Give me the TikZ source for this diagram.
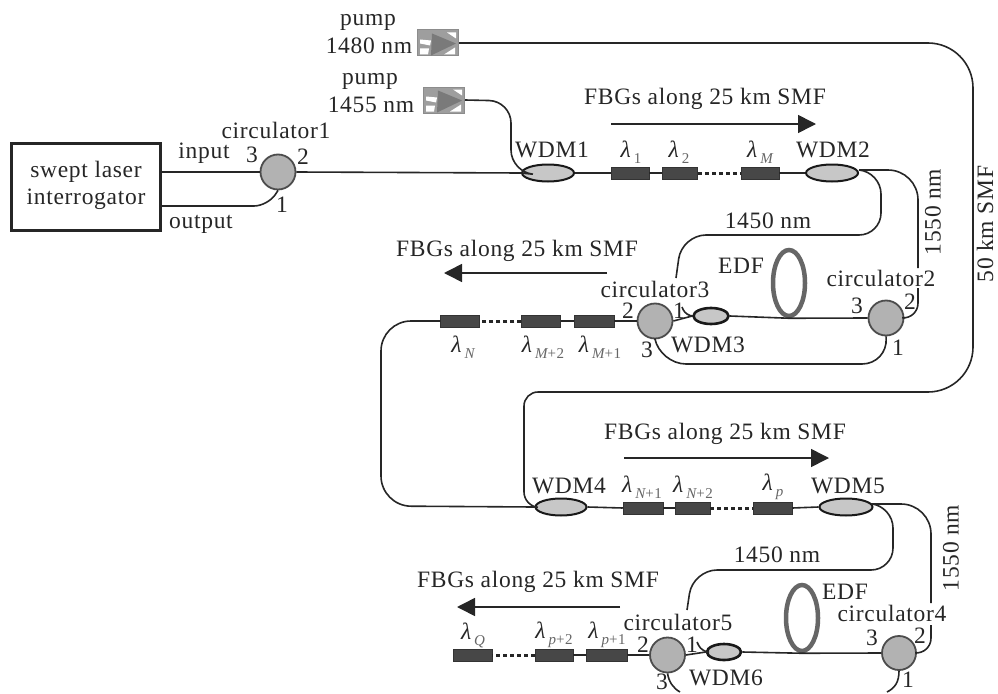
\documentclass[tikz,border=0pt]{standalone}
\usepackage{fontspec}
\setmainfont[LetterSpace=3]{Liberation Serif}
\usetikzlibrary{shapes.geometric,arrows.meta}
\tikzset{
 x=1pt,y=-1pt,
 fibre/.style={draw=black!85,line width=1.6pt},
 lbl/.style={inner sep=0pt,font=\fontsize{23.5}{26}\selectfont,text=black!85},
 wdm/.style={ellipse,draw=black!90,line width=2pt,fill=black!22,minimum width=#1,minimum height=17pt,inner sep=0pt},
 wdm/.default=52pt,
 circ/.style={circle,draw=black!70,line width=1.8pt,fill=black!30,minimum size=35pt,inner sep=0pt},
 fbg/.style={rectangle,fill=black!72,draw=black!80,line width=.5pt,minimum width=#1,minimum height=12pt,inner sep=0pt},
 fbg/.default=38pt,
 edf/.style={ellipse,draw=black!60,line width=4.5pt,minimum width=32pt,minimum height=66pt,inner sep=0pt},
 pumpbox/.style={rectangle,draw=black!45,line width=1pt,fill=black!38,minimum width=41pt,minimum height=26pt,inner sep=0pt},
 dotline/.style={draw=black!85,line width=3pt,dash pattern=on 4pt off 3pt},
 bigarrow/.style={draw=black!85,line width=1.6pt,-{Triangle[length=18pt,width=18pt]}},
}
\newcommand{\lam}[1]{{\itshape λ}\kern3pt\raisebox{-6pt}{\fontsize{15}{15}\selectfont\color{black!60}#1}}
\newcommand{\pumpicon}[1]{%
 \begin{scope}[shift={(#1.north west)}]
 \fill[white] (3,10) -- (14,11) -- (13,16) -- (3,14) -- cycle;
 \fill[white] (30,3) -- (39,3) -- (39,9) -- cycle;
 \fill[white] (3,19) -- (12,19) -- (11,25) -- (3,25) -- cycle;
 \fill[white] (27,25) -- (38,18) -- (38,25) -- cycle;
 \fill[black!52] (15,4) -- (39,14) -- (14,26) -- cycle;
 \end{scope}
}
\begin{document}
\begin{tikzpicture}
\useasboundingbox (0,0) rectangle (998,693);
% devices
\node[rectangle,draw=black!85,line width=3.5pt,minimum width=149pt,minimum height=87pt,inner sep=0pt] (laser) at (86,187) {};
\node[lbl,align=center] (lasertext) at (86,185) {swept laser\\[1pt]interrogator};
\node[pumpbox] (pumpA) at (438,43) {};
\pumpicon{pumpA}
\node[pumpbox] (pumpB) at (444,100) {};
\pumpicon{pumpB}
\node[circ] (c1) at (278,172) {};
\node[circ] (c2) at (886,318) {};
\node[circ] (c3) at (655,321) {};
\node[circ,minimum size=34pt] (c4) at (899,653) {};
\node[circ,minimum size=35pt] (c5) at (667.5,655) {};
\node[wdm] (w1) at (548,173) {};
\node[wdm] (w2) at (832,173) {};
\node[wdm=35pt,minimum height=16pt,line width=2.6pt] (w3) at (711,316) {};
\node[wdm=51pt] (w4) at (561,507) {};
\node[wdm=53pt] (w5) at (846,507) {};
\node[wdm=34pt,minimum height=16pt,line width=2.6pt] (w6) at (724,652) {};
\node[edf] (e1) at (789,283) {};
\node[edf,minimum width=32pt,minimum height=66pt] (e2) at (802,618) {};
% gratings
\node[fbg] (f1) at (630,173) {};
\node[fbg=35pt] (f2) at (680,173) {};
\node[fbg] (fM) at (760,173) {};
\node[fbg=40pt] (fM1) at (594,321) {};
\node[fbg=39pt] (fM2) at (541,321) {};
\node[fbg=39pt] (fN) at (460,321) {};
\node[fbg=40pt] (fN1) at (643,508) {};
\node[fbg=35pt] (fN2) at (692.5,508) {};
\node[fbg=39pt] (fP) at (772.5,508) {};
\node[fbg=41pt] (fP1) at (606.5,655) {};
\node[fbg=38pt] (fP2) at (554,655) {};
\node[fbg=39pt] (fQ) at (472.5,655) {};
% connectors, first section
\draw[fibre] (laser.east |- c1.west) -- (c1.west);
\draw[fibre,rounded corners=14pt] (161,206) -- (268,206) -- (c1.south);
\draw[fibre] (c1.east) -- (w1.west);
\draw[fibre,rounded corners=22pt] (pumpB.east) -- (511,101) -- (511,172) -- (w1.west);
\draw[fibre,rounded corners=45pt] (pumpA.east) -- (973,43) -- (973,392) -- (600,392);
\draw[fibre,rounded corners=14pt] (600,392) -- (524,392) -- (524,506) -- (w4.west);
\draw[fibre] (w1.east) -- (f1.west);
\draw[fibre] (f1.east) -- (f2.west);
\draw[dotline] (f2.east) -- (fM.west);
\draw[fibre] (fM.east) -- (w2.west);
\coordinate (w2up) at (859,170);
\coordinate (w5up) at (873,504);
\draw[fibre,rounded corners=30pt] (w2up) -- (918,170) -- (918,268);
\draw[fibre,rounded corners=16pt] (c2.east) -- (918,319) -- (918,288);
\draw[fibre,rounded corners=22pt] (w2up) -- (881,172) -- (881,235) -- (780,235);
\draw[fibre,rounded corners=24pt] (780,235) -- (682,235) -- (676,278);
\draw[fibre] (e1.south) -- (c2.west);
\draw[fibre] (w3.east) -- (e1.south);
\draw[fibre] (c3.east) -- (w3.west);
\draw[fibre,rounded corners=7pt] (w3.west) -- (686,316) -- (682,307);
\draw[fibre,rounded corners=26pt] (c3.south) -- (660,364) -- (888,364) -- (c2.south);
\draw[fibre] (c3.west) -- (fM1.east);
\draw[fibre] (fM1.west) -- (fM2.east);
\draw[dotline] (fM2.west) -- (fN.east);
\draw[fibre,rounded corners=30pt] (fN.west) -- (381,321) -- (381,506) -- (w4.west);
% second section
\draw[fibre] (w4.east) -- (fN1.west);
\draw[fibre] (fN1.east) -- (fN2.west);
\draw[dotline] (fN2.east) -- (fP.west);
\draw[fibre] (fP.east) -- (w5.west);
\draw[fibre,rounded corners=30pt] (w5up) -- (931,504) -- (931,603);
\draw[fibre,rounded corners=16pt] (c4.east) -- (931,654) -- (931,625);
\draw[fibre,rounded corners=22pt] (w5up) -- (893,506) -- (893,570) -- (800,570);
\draw[fibre,rounded corners=24pt] (800,570) -- (693,570) -- (687,610);
\draw[fibre] (w6.east) -- (e2.south);
\draw[fibre] (e2.south) -- (c4.west);
\draw[fibre] (c5.east) -- (w6.west);
\draw[fibre,rounded corners=7pt] (w6.west) -- (702,652) -- (697,642);
\draw[fibre] (c5.west) -- (fP1.east);
\draw[fibre] (fP1.west) -- (fP2.east);
\draw[dotline] (fP2.west) -- (fQ.east);
\coordinate (endA) at (680,692);
\coordinate (endB) at (887,692);
\draw[fibre] (c5.south) .. controls (669,682) and (673,688) .. (endA);
\draw[fibre] (c4.south) .. controls (899,682) and (895,688) .. (endB);
% direction arrows
\coordinate (a1s) at (611,124); \coordinate (a1e) at (816,124);
\coordinate (a2s) at (607,273); \coordinate (a2e) at (444,273);
\coordinate (a3s) at (624,458); \coordinate (a3e) at (829,458);
\coordinate (a4s) at (620,607); \coordinate (a4e) at (457,607);
\draw[bigarrow] (a1s) -- (a1e);
\draw[bigarrow] (a2s) -- (a2e);
\draw[bigarrow] (a3s) -- (a3e);
\draw[bigarrow] (a4s) -- (a4e);
% labels
\node[lbl] (t01) at (368,22) {pump};
\node[lbl] (t02) at (369,46) {1480 nm};
\node[lbl] (t03) at (370,81) {pump};
\node[lbl] (t04) at (371,105) {1455 nm};
\node[lbl] (t05) at (276,130) {circulator1};
\node[lbl] (t06) at (204,153) {input};
\node[lbl] (t07) at (201,224) {output};
\node[lbl] (t08) at (252,155) {3};
\node[lbl] (t09) at (303,157) {2};
\node[lbl] (t10) at (282,205) {1};
\node[lbl] (t11) at (705,99) {FBGs along 25 km SMF};
\node[lbl] (t12) at (552,150) {WDM1};
\node[lbl] (t13) at (833,150) {WDM2};
\node[lbl] (t14) at (631,152) {\lam{1}};
\node[lbl] (t15) at (679,152) {\lam{2}};
\node[lbl] (t16) at (760,152) {\lam{\itshape M}};
\node[lbl] (t17) at (768,221) {1450 nm};
\node[lbl,rotate=90] (t18) at (933,212) {1550 nm};
\node[lbl,rotate=90] (t19) at (985,224) {50 km SMF};
\node[lbl] (t20) at (517,251) {FBGs along 25 km SMF};
\node[lbl] (t21) at (655,289) {circulator3};
\node[lbl] (t22) at (741,266) {EDF};
\node[lbl] (t23) at (881,278) {circulator2};
\node[lbl] (t24) at (857,306) {3};
\node[lbl] (t25) at (910,302) {2};
\node[lbl] (t26) at (898,348) {1};
\node[lbl] (t27) at (628,311) {2};
\node[lbl] (t28) at (679,311) {1};
\node[lbl] (t29) at (647,350) {3};
\node[lbl] (t30) at (708,345) {WDM3};
\node[lbl] (t31) at (463,347) {\lam{\itshape N}};
\node[lbl] (t32) at (543,347) {\lam{{\itshape M}+2}};
\node[lbl] (t33) at (600,347) {\lam{{\itshape M}+1}};
\node[lbl] (t34) at (725,434) {FBGs along 25 km SMF};
\node[lbl] (t35) at (569,486) {WDM4};
\node[lbl] (t36) at (848,486) {WDM5};
\node[lbl] (t37) at (642,487) {\lam{{\itshape N}+1}};
\node[lbl] (t38) at (693,487) {\lam{{\itshape N}+2}};
\node[lbl] (t39) at (773,487) {\lam{\itshape p}};
\node[lbl] (t40) at (777,555) {1450 nm};
\node[lbl,rotate=90] (t41) at (951,548) {1550 nm};
\node[lbl] (t42) at (538,582) {FBGs along 25 km SMF};
\node[lbl] (t43) at (845,592) {EDF};
\node[lbl] (t44) at (892,613) {circulator4};
\node[lbl] (t45) at (678,622) {circulator5};
\node[lbl] (t46) at (872,638) {3};
\node[lbl] (t47) at (920,636) {2};
\node[lbl] (t48) at (908,680) {1};
\node[lbl] (t49) at (643,645) {2};
\node[lbl] (t50) at (692,645) {1};
\node[lbl] (t51) at (662,682) {3};
\node[lbl] (t52) at (726,678) {WDM6};
\node[lbl] (t53) at (473,635) {\lam{\itshape Q}};
\node[lbl] (t54) at (554,635) {\lam{{\itshape p}+2}};
\node[lbl] (t55) at (607,635) {\lam{{\itshape p}+1}};
\end{tikzpicture}
\end{document}
